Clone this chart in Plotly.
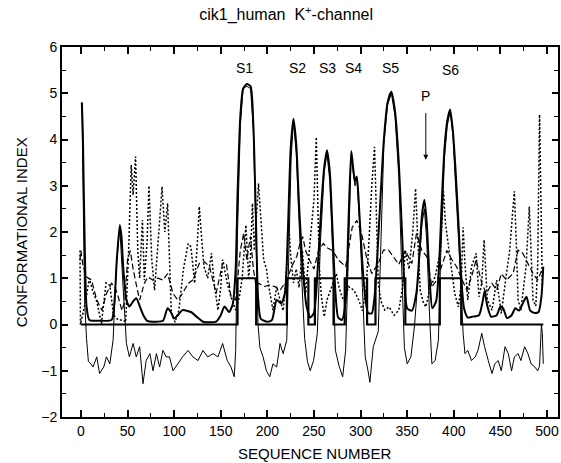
import plotly.graph_objects as go

# ---- data ----
# thick smoothed profile
a_x = [1, 2, 4, 6, 9, 20, 33, 36, 38.5, 41.7, 43.5, 45.5, 48.8, 52, 56, 59.4, 63, 67, 71, 80, 88, 93, 97, 100, 104, 109, 118, 124, 131, 145, 150, 154, 159, 163, 166, 168, 171, 174, 178, 182, 185, 187.5, 190, 193, 200, 205, 210, 215, 219, 222, 225, 228, 231, 234, 238, 242, 246, 250, 254, 258, 261, 264, 267, 270, 273, 276, 280, 284, 287, 290, 292, 294, 296, 299, 302, 305, 308, 312, 315, 318, 321, 325, 329, 333, 337, 341, 344, 347, 350, 355, 360, 363, 366, 368.5, 371, 374, 377, 381, 384, 387, 390, 393, 396, 399, 402, 405, 408, 411, 415, 420, 427, 431, 433, 436, 440, 446, 450, 453, 457, 462, 466, 470, 475, 478, 482, 487, 491, 494, 496]
a_y = [4.8, 4.2, 1.8, 0.4, 0.1, 0.08, 0.1, 0.5, 1.4, 2.15, 1.9, 1.2, 0.53, 0.39, 0.5, 0.57, 0.4, 0.2, 0.08, 0.06, 0.08, 0.35, 0.25, 0.13, 0.2, 0.31, 0.27, 0.17, 0.06, 0.06, 0.2, 0.39, 0.27, 0.45, 1.2, 2.8, 4.5, 5.1, 5.2, 5.15, 4.3, 2.5, 0.6, 0.12, 0.06, 0.1, 0.53, 0.46, 0.7, 2.0, 3.8, 4.45, 3.9, 2.6, 1.2, 0.4, 0.15, 0.25, 1.2, 2.6, 3.4, 3.77, 3.3, 2.0, 0.7, 0.15, 0.1, 0.5, 2.2, 3.75, 3.4, 3.1, 3.2, 2.3, 1.3, 0.6, 0.25, 0.24, 0.6, 1.5, 2.6, 4.0, 4.8, 5.03, 4.6, 3.5, 2.2, 0.9, 0.35, 0.3, 0.7, 1.5, 2.4, 2.7, 2.2, 1.0, 0.35, 0.5, 1.2, 2.6, 3.8, 4.4, 4.65, 4.2, 3.3, 2.2, 1.0, 0.35, 0.15, 0.17, 0.2, 0.5, 0.72, 0.4, 0.17, 0.2, 0.39, 0.35, 0.14, 0.2, 0.35, 0.3, 0.5, 0.6, 0.3, 0.25, 0.27, 0.6, 1.25]

# thin noisy profile
b_x = [1, 2, 4, 6, 8, 10.7, 13, 17, 20, 24.5, 27.4, 31, 34.5, 38, 41.7, 45, 48.8, 52, 56, 59.4, 63, 66.6, 70, 74, 77.3, 81, 84.4, 88, 91.5, 95, 98.8, 104, 109, 115, 120, 125.6, 131, 136, 141.8, 147, 152, 157, 161, 164.5, 166, 168, 171, 174, 178, 182, 185, 187.5, 190, 192, 195.4, 199, 202.6, 206, 210, 213.6, 217, 220.8, 223, 225.5, 228, 231, 234, 237, 240, 243, 246, 249.6, 253.6, 257, 261, 264, 267, 270, 273, 277, 280.8, 284, 287, 290, 292, 294, 296, 299, 302, 305, 308, 310, 313.6, 316, 319, 321, 325, 329, 333, 337, 341, 344.5, 347, 350, 354, 358, 362, 366, 368.5, 371, 374, 376.5, 380, 383.5, 386, 390, 393, 396, 399, 402, 406, 410, 412, 415, 419, 423, 426, 430, 433, 437, 441, 444, 447.6, 451, 455, 458.5, 462, 465, 469, 472, 476, 479.5, 483, 487, 490, 492, 494, 495, 496]
b_y = [4.8, 3.5, 0.5, -0.3, -0.8, -0.85, -0.92, -0.7, -1.06, -0.92, -0.7, -0.85, -0.34, 1.25, 2.1, 0.9, -0.41, -0.7, -0.41, -0.7, -0.48, -1.28, -0.78, -0.63, -1.0, -0.63, -0.92, -0.56, -0.7, -0.7, -1.0, -0.85, -0.7, -0.56, -0.7, -0.78, -0.56, -0.7, -0.63, -0.7, -0.41, -0.78, -0.92, -1.13, -0.56, 2.0, 4.3, 5.1, 5.15, 5.1, 4.2, 2.2, 0.0, -0.5, -0.7, -1.0, -1.13, -0.85, -0.92, -0.41, -0.63, -0.34, 1.5, 3.6, 4.4, 3.7, 2.2, 0.8, -0.3, -0.8, -1.0, -0.78, -0.19, 1.8, 3.3, 3.7, 3.1, 1.6, -0.56, -0.9, -1.13, -0.56, 1.5, 3.7, 3.3, 3.0, 3.15, 2.2, 0.8, -0.7, -1.0, -1.25, -0.48, -0.34, -0.15, 1.2, 3.9, 4.75, 5.0, 4.5, 3.2, 1.0, -0.5, -0.85, -0.7, 0.0, 1.2, 2.2, 2.5, 1.8, 0.2, -0.85, -0.78, -0.34, 1.5, 3.6, 4.3, 4.6, 4.1, 3.1, 1.5, -0.19, -0.63, -0.56, -0.78, -0.7, -0.56, -0.19, -0.48, -0.78, -1.06, -0.85, -0.78, -1.0, -0.48, -0.63, -1.0, -0.7, -0.63, -0.78, -0.48, -0.63, -0.85, -0.92, -1.0, -0.9, 0.0, -0.2, -0.85]

# dotted profile
c_x = [-1, -0.5, 5, 9, 13, 17, 22, 27, 31, 35, 40, 45, 48, 51, 54, 56, 58.6, 61, 63, 66, 68, 71, 73, 76, 79, 82, 85, 87, 90, 93, 95, 97, 101, 105, 110, 115, 118, 122, 125, 127, 129, 132, 136, 140, 143, 147, 150, 152, 154, 157, 162, 166, 170, 173, 177, 180, 182, 184, 186, 188, 190.5, 193, 196, 199, 201, 206, 210, 213.6, 217, 221, 223, 225, 228, 231, 234, 237.6, 241, 246, 250, 252.5, 255.7, 258, 261, 264, 270, 274, 277, 280, 283, 287, 293, 298, 302, 306, 309, 312, 315, 317, 319, 322, 326, 330.6, 336, 341, 345, 348, 352, 356, 359, 361, 364, 367, 370, 375, 380, 385.7, 389, 391, 394, 397, 401, 405, 408, 410, 412, 415, 419, 424, 427, 430, 432.5, 436, 441, 446, 451, 456.5, 460, 463, 465, 467, 469, 472, 477.5, 481, 483, 485, 488, 490, 492, 494, 495]
c_y = [1.6, 0.0, 0.5, 1.0, 0.7, 0.5, 0.02, 0.9, 0.85, 0.2, 0.1, 0.1, 0.05, 1.5, 3.45, 2.8, 3.63, 1.6, 1.0, 2.26, 0.96, 1.8, 3.0, 1.4, 0.74, 1.5, 2.4, 2.98, 2.0, 2.62, 1.3, 0.24, 0.05, 0.3, 1.2, 1.75, 1.68, 0.89, 1.8, 2.55, 2.0, 1.25, 1.0, 1.54, 0.89, 0.31, 0.8, 1.4, 1.2, 0.89, 0.53, 0.31, 0.6, 1.0, 2.15, 1.0, 1.5, 2.62, 1.6, 2.2, 3.05, 2.3, 1.4, 1.2, 0.89, 0.31, 0.82, 0.53, 0.3, 1.3, 2.18, 1.5, 0.9, 1.2, 0.8, 1.6, 0.67, 1.83, 2.7, 4.05, 1.25, 0.6, 0.17, 0.53, 0.89, 1.1, 0.8, 0.6, 0.5, 0.82, 0.74, 0.53, 0.3, 0.8, 1.8, 3.0, 3.84, 2.5, 0.89, 0.5, 0.31, 0.38, 0.2, 0.31, 0.8, 1.6, 1.2, 2.0, 2.94, 2.0, 0.74, 0.5, 0.38, 0.82, 1.03, 1.6, 2.88, 2.2, 1.75, 1.2, 0.67, 0.38, 0.9, 2.1, 1.3, 0.53, 1.25, 1.54, 0.6, 0.9, 1.83, 0.53, 0.31, 0.96, 0.24, 1.1, 1.6, 2.4, 2.88, 1.8, 0.53, 0.31, 1.25, 2.55, 1.6, 0.53, 0.4, 1.25, 4.54, 2.0, 0.82]

# dashed profile
d_x = [-1, 0, 2, 5.7, 11.4, 17, 22.4, 27.4, 32.8, 36.3, 40, 44, 47, 50, 53, 56, 60, 63, 68, 72, 77, 82.6, 88, 93, 98.8, 104, 109, 115, 120, 127, 132.5, 138, 145, 152, 156, 161, 166, 171, 174.6, 178, 181.8, 185, 188, 191, 196, 202.6, 208, 213.6, 220.8, 226, 231.5, 235, 238, 241, 245, 250, 255, 260, 265, 270, 276, 284, 291, 296, 301, 307, 312, 319, 324.6, 330, 335, 341, 348, 355, 360, 365.5, 371, 376.5, 382, 387, 392.6, 398, 403, 409, 414, 419, 424, 430, 435, 441, 446, 451, 456.5, 463.6, 469, 474, 479.5, 485, 490, 496]
d_y = [1.4, 1.6, 1.3, 1.03, 0.96, 0.53, 0.31, 0.67, 0.89, 0.82, 0.6, 0.3, 0.5, 1.4, 1.6, 1.2, 0.8, 0.53, 0.89, 1.03, 0.96, 1.0, 0.96, 1.1, 0.67, 0.53, 0.67, 0.89, 0.96, 1.32, 1.36, 1.25, 0.67, 1.32, 1.32, 0.6, 0.53, 1.6, 1.97, 1.4, 1.9, 1.2, 0.82, 0.89, 0.82, 0.85, 0.82, 0.74, 0.96, 1.25, 1.47, 1.75, 1.9, 1.6, 1.4, 1.2, 1.6, 1.75, 1.65, 1.6, 1.4, 1.25, 2.1, 2.25, 1.97, 1.4, 1.1, 1.32, 1.61, 1.61, 1.47, 1.3, 1.6, 1.32, 1.97, 1.61, 1.47, 0.82, 0.96, 1.25, 1.6, 1.4, 1.25, 0.96, 0.74, 1.03, 1.4, 0.89, 0.67, 0.89, 0.74, 1.1, 0.96, 1.1, 1.61, 1.54, 1.32, 1.1, 0.96, 1.25]

# step (segment assignment)
step_x = [0, 168, 188, 221, 244, 251, 271, 283, 307, 316, 348, 385, 408, 496]
step_y = [0, 1, 0, 1, 0, 1, 0, 1, 0, 1, 0, 1, 0, 0]

seg_labels = ["S1", "S2", "S3", "S4", "S5", "S6"]
seg_label_x = [175, 232, 264, 292, 332, 396]
seg_label_y = [5.55, 5.55, 5.55, 5.55, 5.55, 5.5]

x_ticks = [0, 50, 100, 150, 200, 250, 300, 350, 400, 450, 500]
y_ticks = [-2, -1, 0, 1, 2, 3, 4, 5, 6]

FONT = "Liberation Sans, Arial, Helvetica, sans-serif"

fig = go.Figure()
fig.add_trace(go.Scatter(x=d_x, y=d_y, mode="lines",
                         line=dict(color="black", width=1.2, dash="6px,3px")))
fig.add_trace(go.Scatter(x=c_x, y=c_y, mode="lines",
                         line=dict(color="black", width=1.5, dash="2px,2px")))
fig.add_trace(go.Scatter(x=b_x, y=b_y, mode="lines",
                         line=dict(color="black", width=1)))
fig.add_trace(go.Scatter(x=a_x, y=a_y, mode="lines",
                         line=dict(color="black", width=2, shape="spline", smoothing=0.6)))
fig.add_trace(go.Scatter(x=step_x, y=step_y, mode="lines",
                         line=dict(color="black", width=2.2, shape="hv")))

for t, x, y in zip(seg_labels, seg_label_x, seg_label_y):
    fig.add_annotation(x=x, y=y, text=t, showarrow=False,
                       font=dict(family=FONT, size=14, color="black"))
# "P" label carrying the arrow down to the pore region
fig.add_annotation(x=370, y=3.56, ax=370, ay=4.95, axref="x", ayref="y",
                   text="P", showarrow=True, arrowhead=2, arrowsize=1,
                   arrowwidth=1, arrowcolor="black", standoff=0, startstandoff=8,
                   font=dict(family=FONT, size=14, color="black"))

# axis titles
fig.add_annotation(xref="paper", yref="paper", x=-0.082, y=0.5,
                   text="CONFORMATIONAL INDEX", textangle=-90, showarrow=False,
                   xanchor="center", yanchor="middle",
                   font=dict(family=FONT, size=15, color="black"))
fig.add_annotation(xref="paper", yref="paper", x=0.51, y=-0.098,
                   text="SEQUENCE NUMBER", showarrow=False, yanchor="middle",
                   font=dict(family=FONT, size=15, color="black"))

fig.update_layout(
    width=561, height=463,
    margin=dict(l=62, r=1, t=47, b=46),
    paper_bgcolor="white", plot_bgcolor="white",
    showlegend=False,
    title=dict(text="cik1_human  K<sup>+</sup>-channel", x=0.51, xanchor="center",
               y=0.968, yanchor="middle",
               font=dict(family=FONT, size=16, color="black")),
    font=dict(family=FONT, size=14, color="black"),
)
fig.update_xaxes(range=[-20.3, 511.8], tickvals=x_ticks, ticks="inside", ticklen=7,
                 tickwidth=1.5, tickcolor="black", showline=True, linewidth=2,
                 linecolor="black", mirror="ticks", showgrid=False, zeroline=False,
                 minor=dict(dtick=25, tick0=0, ticks="inside", ticklen=4,
                            tickwidth=1.2, tickcolor="black", showgrid=False),
                 tickfont=dict(family=FONT, size=14, color="black"))
fig.update_yaxes(range=[-2, 6], tickvals=y_ticks, ticks="inside", ticklen=6,
                 tickwidth=1.5, tickcolor="black", showline=True, linewidth=2,
                 linecolor="black", mirror="ticks", showgrid=False, zeroline=False,
                 minor=dict(dtick=0.5, tick0=0, ticks="inside", ticklen=4,
                            tickwidth=1.2, tickcolor="black", showgrid=False),
                 tickfont=dict(family=FONT, size=14, color="black"))

fig.write_html("out.html")
